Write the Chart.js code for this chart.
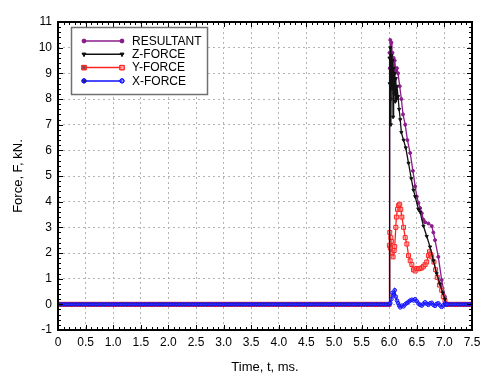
<!DOCTYPE html>
<html>
<head>
<meta charset="utf-8">
<script src="https://cdn.jsdelivr.net/npm/chart.js@4.4.1/dist/chart.umd.min.js"></script>
<style>
  body { margin: 0; background: #fff; }
  canvas { display: block; }
</style>
</head>
<body>
<canvas id="my_chart" width="496" height="381"></canvas>
<script>
// flat part of the record (before the impact and after it), ms
var baseTimesPre = [
    0, 0.05, 0.1, 0.15, 0.2, 0.25, 0.3, 0.35, 0.4, 0.45,
    0.5, 0.55, 0.6, 0.65, 0.7, 0.75, 0.8, 0.85, 0.9, 0.95,
    1.0, 1.05, 1.1, 1.15, 1.2, 1.25, 1.3, 1.35, 1.4, 1.45,
    1.5, 1.55, 1.6, 1.65, 1.7, 1.75, 1.8, 1.85, 1.9, 1.95,
    2.0, 2.05, 2.1, 2.15, 2.2, 2.25, 2.3, 2.35, 2.4, 2.45,
    2.5, 2.55, 2.6, 2.65, 2.7, 2.75, 2.8, 2.85, 2.9, 2.95,
    3.0, 3.05, 3.1, 3.15, 3.2, 3.25, 3.3, 3.35, 3.4, 3.45,
    3.5, 3.55, 3.6, 3.65, 3.7, 3.75, 3.8, 3.85, 3.9, 3.95,
    4.0, 4.05, 4.1, 4.15, 4.2, 4.25, 4.3, 4.35, 4.4, 4.45,
    4.5, 4.55, 4.6, 4.65, 4.7, 4.75, 4.8, 4.85, 4.9, 4.95,
    5.0, 5.05, 5.1, 5.15, 5.2, 5.25, 5.3, 5.35, 5.4, 5.45,
    5.5, 5.55, 5.6, 5.65, 5.7, 5.75, 5.8, 5.85, 5.9, 5.95
];
var baseForcePre = [
    0, 0, 0, 0, 0, 0, 0, 0, 0, 0,
    0, 0, 0, 0, 0, 0, 0, 0, 0, 0,
    0, 0, 0, 0, 0, 0, 0, 0, 0, 0,
    0, 0, 0, 0, 0, 0, 0, 0, 0, 0,
    0, 0, 0, 0, 0, 0, 0, 0, 0, 0,
    0, 0, 0, 0, 0, 0, 0, 0, 0, 0,
    0, 0, 0, 0, 0, 0, 0, 0, 0, 0,
    0, 0, 0, 0, 0, 0, 0, 0, 0, 0,
    0, 0, 0, 0, 0, 0, 0, 0, 0, 0,
    0, 0, 0, 0, 0, 0, 0, 0, 0, 0,
    0, 0, 0, 0, 0, 0, 0, 0, 0, 0,
    0, 0, 0, 0, 0, 0, 0, 0, 0, 0
];
var baseTimesPost = [7.05, 7.1, 7.15, 7.2, 7.25, 7.3, 7.35, 7.4, 7.45, 7.5];
var baseForcePost = [0, 0, 0, 0, 0, 0, 0, 0, 0, 0];

// impact part, kN
var resultantT = [6.0, 6.005, 6.01, 6.02, 6.03, 6.04, 6.05, 6.06, 6.07, 6.08, 6.09, 6.1, 6.12, 6.14, 6.16, 6.19, 6.22, 6.25, 6.29, 6.33, 6.38, 6.43, 6.47, 6.5, 6.53, 6.56, 6.59, 6.62, 6.65, 6.71, 6.77, 6.8, 6.83, 6.89, 6.95, 7.01, 7.03];
var resultantF = [0, 9.8, 9.2, 10.3, 8.0, 10.2, 9.0, 9.8, 8.4, 9.6, 8.8, 9.5, 9.1, 9.2, 9.0, 8.5, 8.0, 7.4, 7.0, 6.4, 5.9, 5.2, 4.6, 4.2, 3.95, 3.75, 3.55, 3.3, 3.2, 3.15, 3.05, 2.8, 2.5, 1.85, 0.95, 0.3, 0];

var zForceT = [6.0, 6.005, 6.01, 6.02, 6.03, 6.04, 6.05, 6.06, 6.07, 6.08, 6.09, 6.1, 6.11, 6.12, 6.13, 6.14, 6.16, 6.18, 6.2, 6.22, 6.26, 6.3, 6.35, 6.4, 6.44, 6.47, 6.53, 6.56, 6.62, 6.68, 6.74, 6.8, 6.86, 6.92, 6.97, 7.01, 7.03];
var zForceF = [0, 9.6, 8.6, 10.0, 7.0, 9.7, 8.4, 9.5, 7.3, 9.2, 8.2, 9.0, 7.9, 8.8, 8.0, 8.5, 8.1, 7.6, 7.2, 6.7, 6.4, 6.1, 5.5, 4.9, 4.45, 4.2, 3.7, 3.6, 3.05, 2.65, 2.24, 1.7, 1.2, 0.8, 0.45, 0.2, 0];

var yForceT = [6.0, 6.003, 6.01, 6.02, 6.03, 6.04, 6.05, 6.07, 6.09, 6.1, 6.12, 6.13, 6.15, 6.17, 6.19, 6.21, 6.23, 6.26, 6.29, 6.32, 6.35, 6.38, 6.41, 6.44, 6.47, 6.5, 6.53, 6.56, 6.59, 6.62, 6.65, 6.68, 6.71, 6.73, 6.75, 6.77, 6.81, 6.84, 6.87, 6.91, 6.95, 6.98, 7.01, 7.03];
var yForceF = [0, 2.3, 2.8, 2.2, 2.6, 2.45, 2.0, 1.85, 2.1, 2.25, 3.0, 3.4, 3.7, 3.85, 3.9, 3.7, 3.4, 3.0, 2.6, 2.35, 1.9, 1.7, 1.55, 1.35, 1.3, 1.4, 1.38, 1.4, 1.42, 1.48, 1.55, 1.65, 1.9, 2.05, 1.95, 1.85, 1.65, 1.35, 1.05, 0.75, 0.55, 0.3, 0.15, 0];

var xForceT = [6.0, 6.02, 6.04, 6.06, 6.08, 6.1, 6.12, 6.14, 6.16, 6.18, 6.2, 6.23, 6.26, 6.29, 6.32, 6.35, 6.38, 6.41, 6.44, 6.47, 6.5, 6.53, 6.56, 6.59, 6.62, 6.65, 6.68, 6.71, 6.74, 6.77, 6.8, 6.83, 6.86, 6.89, 6.92, 6.95, 6.98, 7.01, 7.03];
var xForceF = [0, 0.05, 0.2, 0.45, 0.35, 0.55, 0.3, 0.15, 0.05, -0.05, -0.12, -0.05, -0.08, 0.0, 0.05, 0.1, 0.15, 0.18, 0.15, 0.2, 0.12, 0.03, -0.02, -0.05, 0.02, 0.08, 0.02, -0.02, 0.04, 0.06, -0.02, -0.06, 0.02, 0.04, -0.04, -0.1, -0.04, 0.04, 0];

var seriesNames = ["RESULTANT", "Z-FORCE", "Y-FORCE", "X-FORCE"];

function points(times, values) {
    var out = [];
    baseTimesPre.forEach(function (t, i) { out.push({ x: t, y: baseForcePre[i] }); });
    times.forEach(function (t, i) { out.push({ x: t, y: values[i] }); });
    baseTimesPost.forEach(function (t, i) { out.push({ x: t, y: baseForcePost[i] }); });
    return out;
}

var styles = [
    { color: "#8b1c8b", fill: "#8b1c8b", point: "circle", radius: 1.5, rotation: 0, order: 3 },
    { color: "#111111", fill: "#111111", point: "triangle", radius: 1.8, rotation: 180, order: 1 },
    { color: "#ff2424", fill: "rgba(255,150,150,0.5)", point: "rect", radius: 2.8, rotation: 0, order: 2 },
    { color: "#1010ff", fill: "rgba(90,90,255,0.4)", point: "circle", radius: 1.8, rotation: 0, order: 0 },
];

var allData = [
    points(resultantT, resultantF),
    points(zForceT, zForceF),
    points(yForceT, yForceF),
    points(xForceT, xForceF),
];

var datasets = seriesNames.map(function (name, i) {
    var s = styles[i];
    return {
        label: name,
        data: allData[i],
        showLine: true,
        borderColor: s.color,
        borderWidth: 1.3,
        pointStyle: s.point,
        pointRadius: s.radius,
        pointRotation: s.rotation,
        pointBorderWidth: 1,
        pointBorderColor: s.color,
        pointBackgroundColor: s.fill,
        order: s.order,
    };
});

var FONT = "'Liberation Sans', Arial, sans-serif";

// frame, minor ticks and the boxed legend
var framePlugin = {
    id: "frame",
    afterDraw: function (chart) {
        var ctx = chart.ctx;
        var a = chart.chartArea;
        var xs = chart.scales.x, ys = chart.scales.y;
        ctx.save();
        ctx.strokeStyle = "#000";
        ctx.lineWidth = 1;
        ctx.beginPath();
        for (var k = 0; k <= 75; k++) {
            var px = Math.round(xs.getPixelForValue(k / 10)) + 0.5;
            var len = k % 5 === 0 ? 5 : 3;
            ctx.moveTo(px, a.bottom); ctx.lineTo(px, a.bottom - len);
            ctx.moveTo(px, a.top); ctx.lineTo(px, a.top + len);
        }
        for (var j = -5; j <= 55; j++) {
            var py = Math.round(ys.getPixelForValue(j / 5)) + 0.5;
            var l2 = j % 5 === 0 ? 5 : 3;
            ctx.moveTo(a.left, py); ctx.lineTo(a.left + l2, py);
            ctx.moveTo(a.right, py); ctx.lineTo(a.right - l2, py);
        }
        ctx.stroke();
        ctx.lineWidth = 2;
        ctx.strokeRect(a.left, a.top, a.right - a.left, a.bottom - a.top);

        // legend
        ctx.fillStyle = "#fff";
        ctx.fillRect(71.5, 27.5, 136, 67);
        ctx.strokeStyle = "#707070";
        ctx.lineWidth = 1.5;
        ctx.strokeRect(71.5, 27.5, 136, 67);
        ctx.font = "12px " + FONT;
        ctx.textBaseline = "middle";
        seriesNames.forEach(function (name, i) {
            var s = styles[i];
            var y = 41 + i * 13.3;
            ctx.strokeStyle = s.color;
            ctx.lineWidth = 1.5;
            ctx.beginPath();
            ctx.moveTo(84, y); ctx.lineTo(122, y);
            ctx.stroke();
            [84, 122].forEach(function (x) {
                ctx.lineWidth = 1;
                Chart.helpers.drawPoint(ctx, {
                    pointStyle: s.point, radius: s.radius + 0.3, rotation: s.rotation, borderWidth: 1
                }, x, y);
                ctx.fillStyle = s.fill;
                ctx.fill();
                ctx.stroke();
            });
            ctx.fillStyle = "#000";
            ctx.fillText(name, 132, y + 0.5);
        });
        ctx.restore();
    },
};

var ctx = document.getElementById("my_chart").getContext("2d");
var myChart = new Chart(ctx, {
    type: "scatter",
    data: { datasets: datasets },
    options: {
        responsive: false,
        animation: false,
        layout: { padding: { top: 22, right: 24, left: 0, bottom: 0 } },
        plugins: { legend: { display: false }, tooltip: { enabled: false } },
        scales: {
            x: {
                type: "linear",
                min: 0,
                max: 7.5,
                afterFit: function (scale) { scale.height = 51; },
                ticks: {
                    stepSize: 0.5,
                    color: "#000",
                    padding: 5,
                    font: { family: FONT, size: 12 },
                    callback: function (v) { return v === 0 ? "0" : v.toFixed(1); },
                },
                grid: { color: "#b4b4b4", drawTicks: false },
                border: { display: false, dash: [2, 3] },
                title: {
                    display: true,
                    text: "Time, t, ms.",
                    color: "#000",
                    font: { family: FONT, size: 13 },
                    padding: { top: 4, bottom: 6 },
                },
            },
            y: {
                type: "linear",
                min: -1,
                max: 11,
                afterFit: function (scale) { scale.width = 58; },
                ticks: {
                    stepSize: 1,
                    color: "#000",
                    padding: 6,
                    font: { family: FONT, size: 12 },
                },
                grid: { color: "#b4b4b4", drawTicks: false },
                border: { display: false, dash: [2, 3] },
                title: {
                    display: true,
                    text: "Force, F, kN.",
                    color: "#000",
                    font: { family: FONT, size: 13 },
                    padding: { top: 11, bottom: 4 },
                },
            },
        },
    },
    plugins: [framePlugin],
});
</script>
</body>
</html>
